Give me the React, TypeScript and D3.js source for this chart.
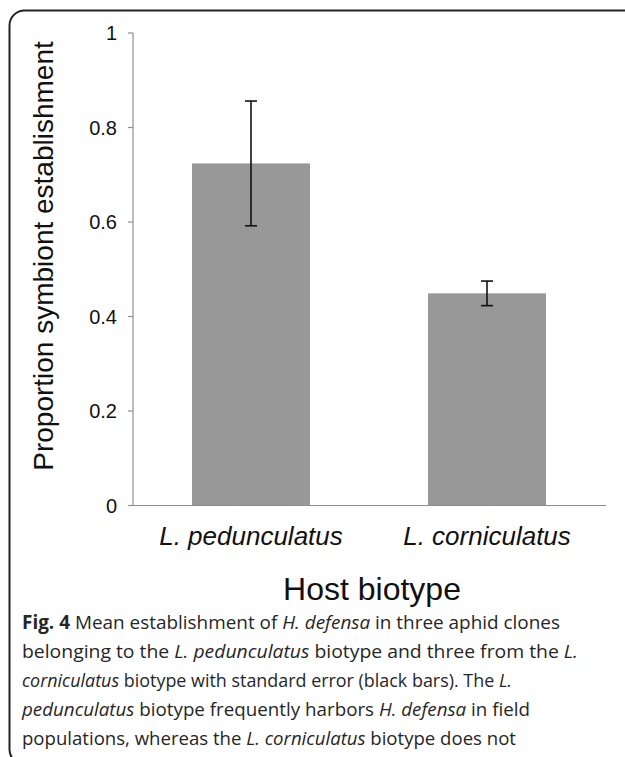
import React, { useRef, useEffect } from 'react';
import * as d3 from 'd3';

// values
const biotypes = ['L. pedunculatus', 'L. corniculatus'];
const means = [0.724, 0.449];
const stdErr = [0.132, 0.026];
const yTicks = [0, 0.2, 0.4, 0.6, 0.8, 1];

const yTitle = 'Proportion symbiont establishment';
const xTitle = 'Host biotype';

// caption lines: [text, style] pieces ('b' bold, 'i' italic, '' normal)
const captionLines: [string, string][][] = [
  [['Fig. 4', 'b'], [' Mean establishment of ', ''], ['H. defensa', 'i'], [' in three aphid clones', '']],
  [['belonging to the ', ''], ['L. pedunculatus', 'i'], [' biotype and three from the ', ''], ['L.', 'i']],
  [['corniculatus', 'i'], [' biotype with standard error (black bars). The ', ''], ['L.', 'i']],
  [['pedunculatus', 'i'], [' biotype frequently harbors ', ''], ['H. defensa', 'i'], [' in field', '']],
  [['populations, whereas the ', ''], ['L. corniculatus', 'i'], [' biotype does not', '']],
];
const captionWidths = [538, 556, 490, 508, 494];

const W = 625;
const H = 757;

const App = () => {
  const svgRef = useRef<SVGSVGElement>(null);

  useEffect(() => {
    const svg = d3.select(svgRef.current);
    svg.selectAll('*').remove();

    const plotLeft = 133;
    const plotRight = 605;
    const plotTop = 33;
    const plotBottom = 505.5;

    const x = d3.scaleBand<string>().domain(biotypes).range([plotLeft, plotRight]).paddingInner(0.5).paddingOuter(0.25);
    const y = d3.scaleLinear().domain([0, 1]).range([plotBottom, plotTop]);

    // frame around figure + caption
    svg.append('rect')
      .attr('x', 9.5).attr('y', 10.5)
      .attr('width', 700).attr('height', 754)
      .attr('rx', 15)
      .attr('fill', 'none')
      .attr('stroke', '#222')
      .attr('stroke-width', 2);

    const plotFont = '"Liberation Sans", Arial, sans-serif';

    // y axis
    const yAxis = svg.append('g').attr('stroke', '#8f8f8f').attr('stroke-width', 1.2);
    yAxis.append('line')
      .attr('x1', plotLeft).attr('x2', plotLeft)
      .attr('y1', y(1)).attr('y2', y(0));
    yAxis.selectAll('line.tick').data(yTicks).join('line')
      .attr('class', 'tick')
      .attr('x1', plotLeft - 5).attr('x2', plotLeft)
      .attr('y1', (d) => y(d)).attr('y2', (d) => y(d));

    svg.append('g').selectAll('text').data(yTicks).join('text')
      .attr('x', 117)
      .attr('y', (d) => y(d))
      .attr('dy', '0.36em')
      .attr('text-anchor', 'end')
      .attr('font-family', plotFont)
      .attr('font-size', 20)
      .attr('fill', '#111')
      .text((d) => String(d));

    // bars
    svg.append('g').selectAll('rect').data(biotypes).join('rect')
      .attr('x', (d) => x(d)!)
      .attr('y', (d, i) => y(means[i]))
      .attr('width', x.bandwidth())
      .attr('height', (d, i) => y(0) - y(means[i]))
      .attr('fill', '#989898');

    // x axis line
    svg.append('line')
      .attr('x1', plotLeft - 5).attr('x2', plotRight + 1)
      .attr('y1', y(0)).attr('y2', y(0))
      .attr('stroke', '#8f8f8f').attr('stroke-width', 1.2);

    // error bars
    const err = svg.append('g').attr('stroke', '#111').attr('stroke-width', 1.6);
    biotypes.forEach((b, i) => {
      const cx = x(b)! + x.bandwidth() / 2;
      const hi = y(means[i] + stdErr[i]);
      const lo = y(means[i] - stdErr[i]);
      err.append('line').attr('x1', cx).attr('x2', cx).attr('y1', hi).attr('y2', lo);
      err.append('line').attr('x1', cx - 6).attr('x2', cx + 6).attr('y1', hi).attr('y2', hi);
      err.append('line').attr('x1', cx - 6).attr('x2', cx + 6).attr('y1', lo).attr('y2', lo);
    });

    // category labels
    svg.append('g').selectAll('text').data(biotypes).join('text')
      .attr('x', (d) => x(d)! + x.bandwidth() / 2)
      .attr('y', 545)
      .attr('text-anchor', 'middle')
      .attr('font-family', plotFont)
      .attr('font-style', 'italic')
      .attr('font-size', 26)
      .attr('fill', '#111')
      .text((d) => d);

    // axis titles
    svg.append('text')
      .attr('transform', 'translate(53,256) rotate(-90)')
      .attr('text-anchor', 'middle')
      .attr('font-family', plotFont)
      .attr('font-size', 28)
      .attr('fill', '#111')
      .text(yTitle);

    svg.append('text')
      .attr('x', 372)
      .attr('y', 600)
      .attr('text-anchor', 'middle')
      .attr('font-family', plotFont)
      .attr('font-size', 32)
      .attr('fill', '#111')
      .text(xTitle);

    // caption: every piece is its own text, squeezed to the line's width
    const cap = svg.append('g')
      .attr('font-family', '"Open Sans", sans-serif')
      .attr('font-size', 19)
      .attr('fill', '#262626');
    captionLines.forEach((parts, i) => {
      const baseY = 629 + i * 29;
      const nodes = parts.map(([s, st]) =>
        cap.append('text')
          .attr('y', baseY)
          .attr('font-weight', st === 'b' ? 'bold' : null)
          .attr('font-style', st === 'i' ? 'italic' : null)
          .text(s.replace(/^ | $/g, '\u00A0'))
      );
      const widths = nodes.map((n) => (n.node() as SVGTextElement).getComputedTextLength());
      const total = d3.sum(widths);
      const k = captionWidths[i] / total;
      let cx = 22;
      nodes.forEach((n, j) => {
        n.attr('x', cx)
          .attr('textLength', widths[j] * k)
          .attr('lengthAdjust', 'spacingAndGlyphs');
        cx += widths[j] * k;
      });
    });
  }, []);

  return (
    <svg
      ref={svgRef}
      width={W}
      height={H}
      style={{ position: 'absolute', left: 0, top: 0, background: '#fff' }}
    />
  );
};

export default App;
